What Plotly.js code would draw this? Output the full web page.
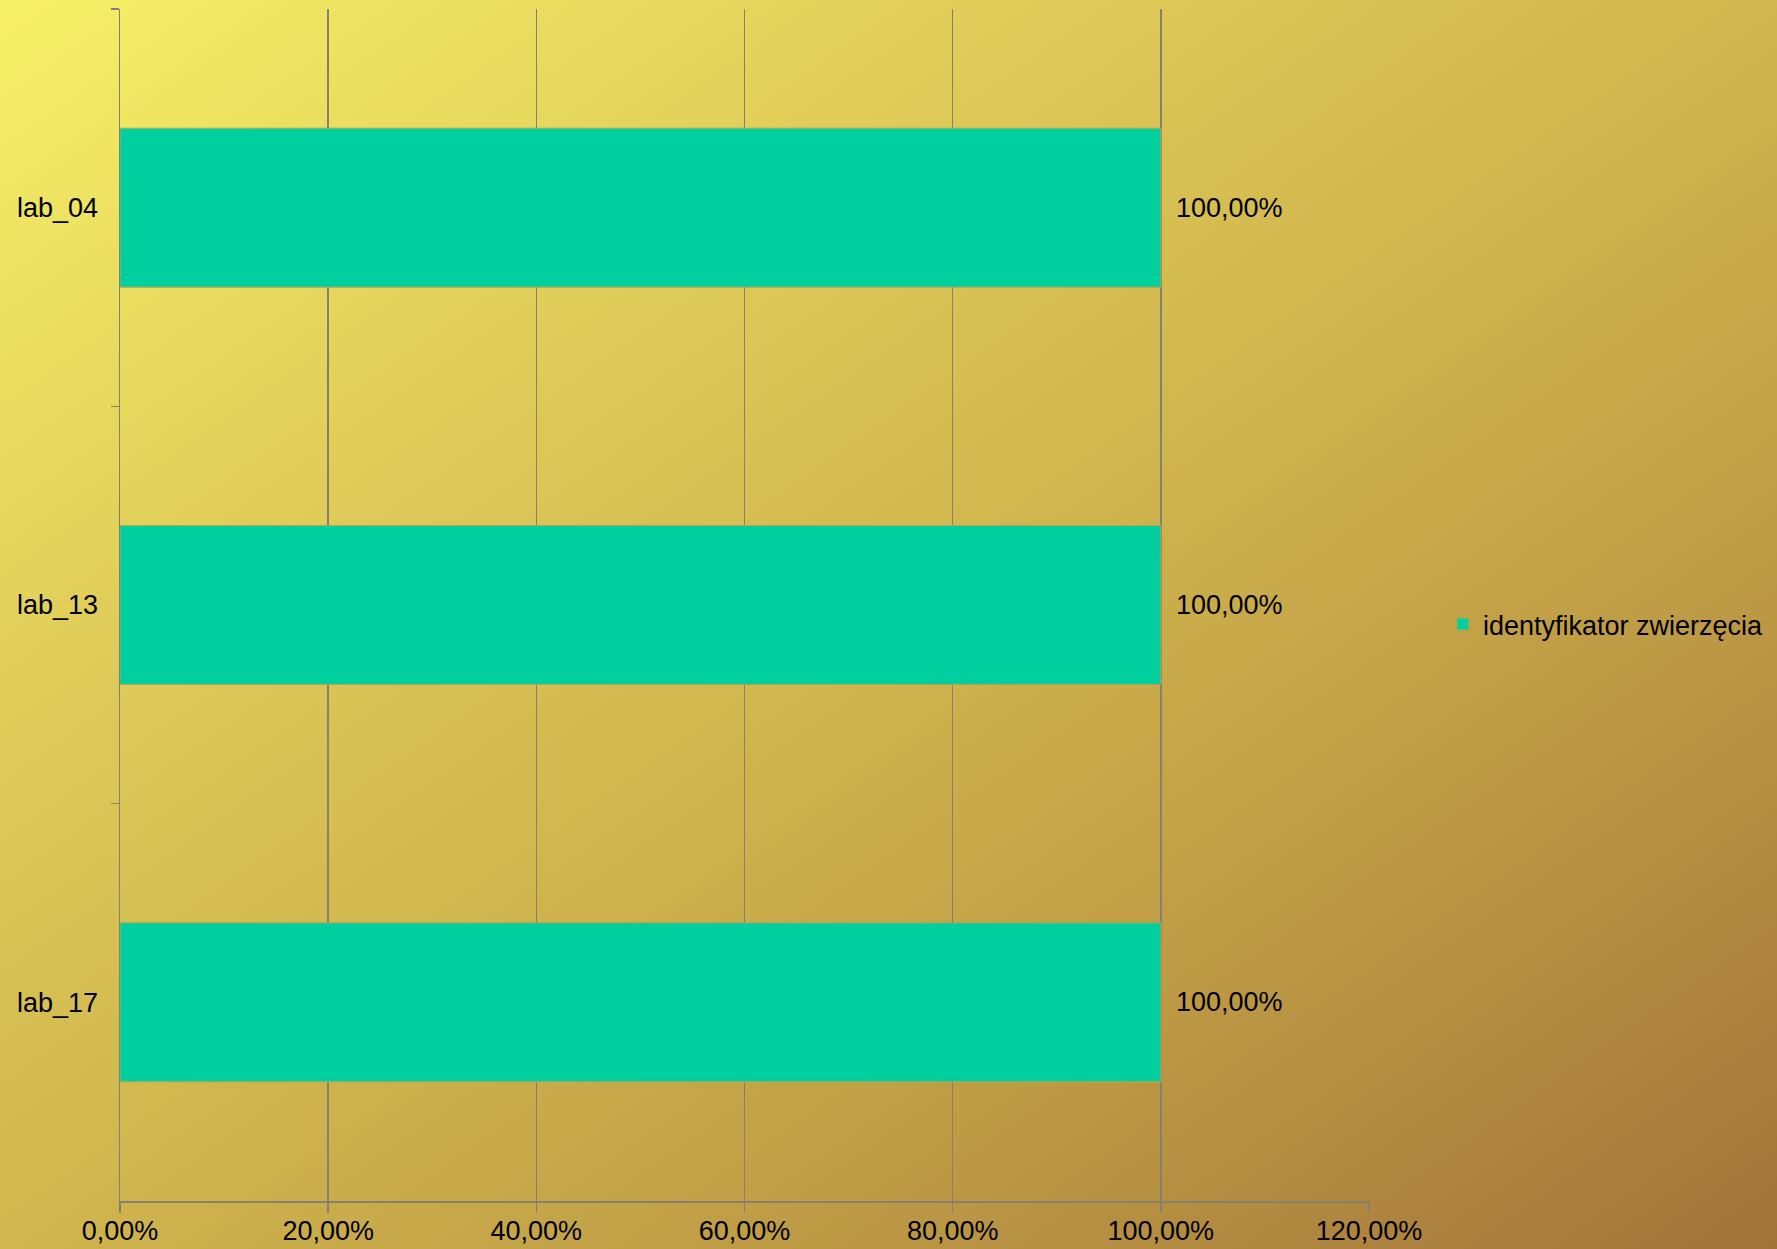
<!DOCTYPE html>
<html>
<head>
<meta charset="utf-8">
<script src="https://cdn.plot.ly/plotly-3.0.1.min.js"></script>
<style>
  html, body { margin: 0; padding: 0; }
  #chart {
    width: 1777px; height: 1249px;
    background: linear-gradient(to bottom right, #F6F067 0%, #DCC757 33%, #D0B64E 50%, #BE9B45 72%, #A2733A 100%);
  }
</style>
</head>
<body>
<div id="chart"></div>
<script>
// ---- data ----
const categories = ["lab_04", "lab_13", "lab_17"];
const values = [1.0, 1.0, 1.0];
const seriesName = "identyfikator zwierzęcia";
const xTickValues = [0, 0.2, 0.4, 0.6, 0.8, 1.0, 1.2];

const FONT = "Liberation Sans, Arial, sans-serif";
const GRID = "#858070";
const FS = 27;

function fmtPct(v) {
  return (v * 100).toFixed(2).replace('.', ',') + '%';
}

const trace = {
  type: 'bar',
  orientation: 'h',
  name: seriesName,
  y: categories,
  x: values,
  marker: { color: '#00CF9F', line: { color: '#B8A553', width: 1 } },
  hoverinfo: 'skip',
  showlegend: true
};

const annotations = categories.map((c, i) => ({
  x: values[i], y: c, xref: 'x', yref: 'y',
  text: fmtPct(values[i]),
  showarrow: false, xanchor: 'left', yanchor: 'middle',
  xshift: 13,
  font: { family: FONT, size: FS, color: '#000000' }
}));

const layout = {
  width: 1777, height: 1249,
  margin: { l: 120, r: 408, t: 9, b: 48, pad: 0 },
  paper_bgcolor: 'rgba(0,0,0,0)',
  plot_bgcolor: 'rgba(0,0,0,0)',
  separators: ', ',
  bargap: 0.6,
  font: { family: FONT, size: FS, color: '#000000' },
  xaxis: {
    range: [0, 1.2],
    tickvals: xTickValues,
    tickformat: '.2%',
    showgrid: true, gridcolor: GRID, gridwidth: 1.5,
    zeroline: false,
    showline: true, linecolor: GRID, linewidth: 1.5,
    ticks: 'outside', ticklen: 10, tickwidth: 1.5, tickcolor: GRID,
    ticklabelstandoff: -5,
    tickfont: { family: FONT, size: FS, color: '#000000' },
    automargin: false,
    fixedrange: true
  },
  yaxis: {
    type: 'category',
    categoryorder: 'array',
    categoryarray: categories,
    autorange: false,
    range: [2.5, -0.5],
    tickson: 'boundaries',
    showgrid: false, zeroline: false,
    showline: true, linecolor: GRID, linewidth: 1.5,
    ticks: 'outside', ticklen: 8, tickwidth: 1.5, tickcolor: GRID,
    ticklabelstandoff: 15,
    tickfont: { family: FONT, size: FS, color: '#000000' },
    automargin: false,
    fixedrange: true
  },
  legend: {
    xref: 'container', yref: 'container',
    x: 0.812, y: 0.5, xanchor: 'left', yanchor: 'middle',
    bgcolor: 'rgba(0,0,0,0)',
    font: { family: FONT, size: FS, color: '#000000' },
    itemwidth: 30
  },
  annotations: annotations
};

Plotly.newPlot('chart', [trace], layout, { displayModeBar: false, staticPlot: true });
</script>
</body>
</html>
